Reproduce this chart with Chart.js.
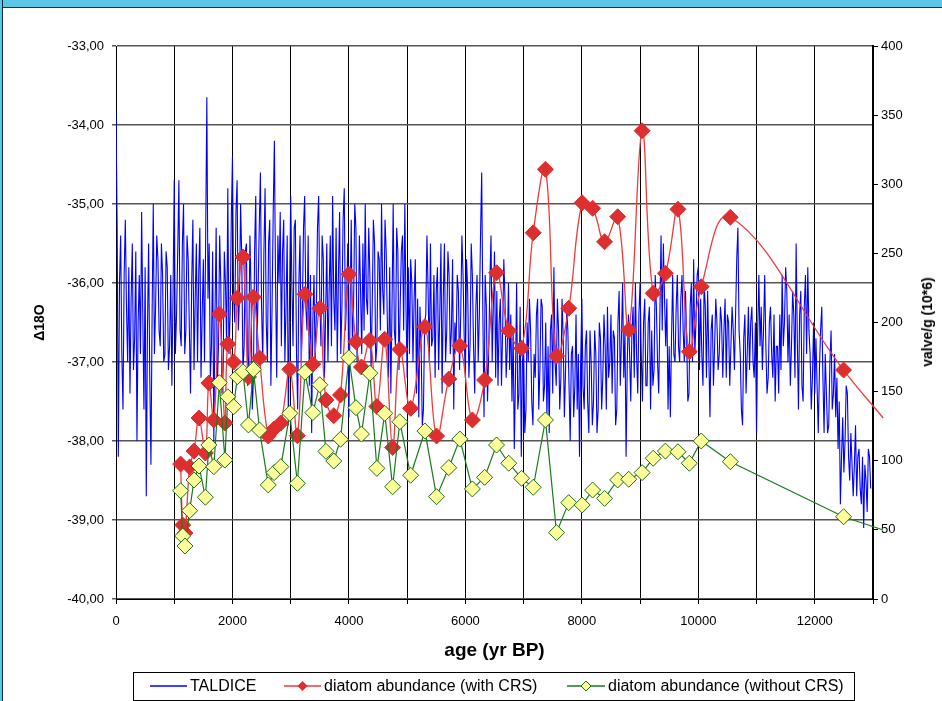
<!DOCTYPE html>
<html>
<head>
<meta charset="utf-8">
<script src="https://cdn.jsdelivr.net/npm/chart.js@4.4.1/dist/chart.umd.min.js"></script>
<style>
  html, body { margin: 0; padding: 0; background: #fff; }
  body { width: 942px; height: 701px; overflow: hidden; position: relative; font-family: "Liberation Sans", Arial, sans-serif; }
  #frame-top { position: absolute; left: 0; top: 0; width: 942px; height: 7px; background: #5cc6e6; border-bottom: 1px solid #1b2a3a; }
  #frame-left { position: absolute; left: 0; top: 0; width: 2px; height: 701px; background: #5cc6e6; border-right: 1px solid #1b2a3a; }
  #c { position: absolute; left: 0; top: 0; }
  #y2-title { position: absolute; left: 927px; top: 322px; transform: translate(-50%, -50%) rotate(-90deg); font-weight: bold; font-size: 14px; white-space: nowrap; color: #000; }
  #legend { position: absolute; left: 133px; top: 672px; width: 722px; height: 29px; border: 1px solid #000; box-sizing: border-box; font-size: 16px; color: #000; }
  #legend .item { position: absolute; top: 4px; height: 18px; display: flex; align-items: center; white-space: nowrap; }
  #legend svg { margin-right: 3px; }
</style>
</head>
<body>
<canvas id="c" width="942" height="701"></canvas>
<div id="frame-top"></div>
<div id="frame-left"></div>
<div id="y2-title">valve/g (10*6)</div>
<div id="legend">
  <div class="item" style="left:16px"><svg width="37" height="14"><line x1="0" y1="7" x2="37" y2="7" stroke="#0000ff" stroke-width="1.5"/></svg>TALDICE</div>
  <div class="item" style="left:150px"><svg width="37" height="14"><line x1="0" y1="7" x2="37" y2="7" stroke="#ee3b3b" stroke-width="1.5"/><polygon points="18.5,2 23.5,7 18.5,12 13.5,7" fill="#dd2f2f"/></svg>diatom abundance (with CRS)</div>
  <div class="item" style="left:433px"><svg width="38" height="14"><line x1="0" y1="7" x2="38" y2="7" stroke="#1a7a1a" stroke-width="1.5"/><polygon points="19,2 24,7 19,12 14,7" fill="#ffff99" stroke="#1e6b1e" stroke-width="1"/></svg>diatom abundance (without CRS)</div>
</div>
<script>
// TALDICE d18O record, one value every 20 yr starting at 0 yr BP
const TALDICE_STEP = 20;
const taldiceD18O = [
  -33.85, -35.3, -38.2, -36.0, -35.4, -36.9, -37.6, -35.9, -35.2, -36.3, -37.0, -35.8, -37.4, -36.2, -35.5, -37.1, -36.7, -35.6, -38.0, -36.5,
  -35.9, -36.9, -35.1, -36.4, -37.6, -35.8, -38.7, -36.6, -35.5, -37.2, -38.3, -36.4, -35.0, -36.9, -36.3, -35.4, -35.7, -36.6, -36.8, -35.5,
  -35.9, -37.0, -36.9, -35.6, -35.8, -37.1, -36.8, -35.9, -37.3, -36.1, -34.7, -36.9, -36.4, -35.6, -34.7, -36.6, -36.8, -35.5, -35.0, -36.9,
  -36.6, -35.4, -35.7, -36.6, -37.4, -36.0, -35.2, -37.1, -36.2, -35.5, -37.0, -35.9, -35.3, -37.2, -36.4, -35.7, -37.0, -35.4, -33.65, -36.2,
  -35.5, -37.2, -36.8, -35.6, -38.0, -36.4, -35.3, -37.3, -36.8, -35.4, -36.0, -37.4, -37.1, -35.6, -36.0, -36.8, -34.8, -36.9, -36.4, -35.2,
  -34.4, -36.2, -36.5, -35.1, -34.7, -36.6, -36.2, -35.0, -35.7, -37.1, -36.8, -35.6, -35.5, -37.3, -36.9, -35.4, -36.1, -37.6, -37.2, -35.6,
  -34.9, -36.9, -36.1, -35.3, -34.6, -36.3, -37.0, -35.6, -34.8, -36.5, -37.0, -35.5, -35.2, -37.3, -36.3, -35.1, -34.2, -36.0, -37.2, -35.4,
  -36.0, -35.1, -36.8, -35.6, -35.2, -37.0, -36.3, -35.4, -37.8, -36.2, -34.9, -36.0, -36.8, -35.3, -35.2, -36.9, -37.6, -36.0, -35.4, -37.0,
  -36.4, -35.3, -34.9, -36.3, -36.6, -35.4, -37.3, -35.9, -37.9, -36.5, -35.9, -37.0, -36.4, -35.3, -34.9, -36.2, -36.8, -35.4, -35.7, -37.2,
  -36.4, -35.5, -37.0, -36.1, -35.4, -36.8, -34.9, -36.2, -36.6, -35.3, -37.0, -35.9, -35.1, -36.9, -36.3, -35.2, -34.8, -36.6, -36.2, -35.5,
  -37.7, -36.3, -35.2, -36.8, -36.3, -35.0, -35.3, -37.0, -36.6, -35.4, -36.1, -36.9, -35.5, -36.6, -35.0, -36.2, -36.4, -35.3, -35.9, -37.1,
  -36.3, -35.2, -35.5, -37.0, -36.8, -35.6, -35.7, -36.6, -35.0, -36.1, -36.4, -35.2, -35.6, -36.5, -37.2, -35.8, -37.4, -36.3, -35.0, -36.6,
  -36.8, -35.3, -35.6, -37.1, -36.3, -35.6, -35.4, -36.6, -35.0, -36.3, -37.2, -35.8, -36.9, -35.7, -36.0, -37.0, -36.2, -35.7, -37.4, -36.2,
  -37.7, -36.3, -36.8, -37.8, -37.6, -36.5, -36.4, -35.4, -36.1, -37.0, -35.5, -36.8, -36.7, -35.9, -37.2, -36.1, -35.8, -37.1, -36.4, -35.5,
  -37.4, -36.2, -35.5, -37.0, -36.6, -35.6, -35.9, -36.9, -36.6, -35.7, -37.6, -36.5, -36.8, -35.9, -36.1, -37.1, -36.4, -35.4, -35.9, -36.7,
  -37.2, -35.7, -36.1, -37.2, -36.8, -35.5, -35.9, -36.8, -37.4, -36.3, -35.9, -37.0, -36.4, -35.4, -34.6, -36.4, -37.7, -35.9, -36.3, -37.5,
  -36.9, -36.0, -35.4, -37.0, -36.3, -35.6, -37.2, -36.1, -37.3, -36.5, -36.2, -37.3, -36.6, -35.7, -36.2, -37.2, -36.8, -36.0, -37.1, -36.4,
  -37.5, -36.6, -38.1, -37.2, -36.0, -37.6, -37.4, -36.3, -38.2, -37.0, -36.8, -37.9, -37.6, -36.5, -37.0, -36.2, -36.6, -37.5, -37.8, -36.9,
  -37.2, -36.4, -36.2, -37.6, -37.1, -36.2, -36.3, -37.5, -37.3, -36.5, -37.7, -36.8, -37.9, -36.6, -36.4, -37.4, -35.8, -37.0, -37.3, -36.2,
  -36.6, -37.6, -37.2, -36.2, -36.7, -37.7, -37.1, -36.3, -36.6, -37.3, -38.0, -36.9, -36.8, -37.7, -37.3, -36.4, -37.6, -36.9, -38.2, -37.0,
  -36.2, -37.3, -37.6, -36.8, -36.6, -37.5, -37.9, -36.6, -37.0, -37.8, -37.5, -36.6, -36.9, -37.9, -37.6, -36.5, -36.7, -37.6, -37.2, -36.4,
  -36.8, -37.6, -36.3, -37.2, -37.0, -36.4, -37.4, -36.6, -36.7, -37.8, -37.6, -36.5, -36.1, -37.3, -36.7, -36.0, -37.2, -36.6, -38.2, -37.0,
  -36.4, -36.9, -37.5, -36.6, -36.3, -37.2, -36.0, -36.9, -37.4, -36.4, -36.0, -36.9, -37.5, -36.5, -36.2, -37.3, -37.3, -36.5, -36.3, -37.6,
  -36.6, -37.3, -37.1, -35.9, -36.3, -37.0, -37.4, -36.4, -35.4, -36.6, -35.5, -36.2, -36.8, -36.2, -37.6, -36.8, -37.7, -36.7, -35.9, -36.9,
  -37.0, -36.3, -35.9, -36.8, -37.0, -36.2, -35.9, -36.6, -37.0, -36.1, -36.7, -37.5, -37.4, -36.3, -36.0, -37.0, -35.7, -36.9, -36.5, -35.9,
  -35.8, -37.1, -36.2, -36.9, -37.3, -36.0, -36.3, -37.2, -36.1, -36.9, -37.7, -36.6, -36.4, -37.3, -36.8, -36.2, -36.5, -37.1, -36.9, -36.3,
  -36.5, -37.2, -36.6, -36.2, -37.2, -36.4, -36.5, -37.3, -36.8, -36.3, -36.6, -37.1, -36.4, -35.7, -35.3, -36.6, -36.9, -37.6, -37.8, -36.7,
  -36.4, -37.4, -36.9, -36.3, -37.1, -36.5, -36.3, -37.0, -37.2, -36.5, -37.9, -36.6, -35.9, -36.8, -36.3, -37.1, -36.6, -35.9, -36.8, -37.4,
  -37.2, -36.5, -36.3, -36.9, -37.2, -36.4, -37.5, -36.8, -36.8, -37.4, -36.4, -37.1, -35.9, -36.8, -36.5, -35.8, -36.1, -37.0, -36.4, -37.3,
  -36.8, -36.1, -36.4, -37.2, -35.5, -36.7, -37.6, -36.4, -36.1, -37.3, -37.5, -36.3, -35.9, -36.9, -35.8, -36.6, -36.9, -37.6, -37.2, -36.5,
  -37.4, -36.7, -37.3, -37.9, -37.1, -36.6, -36.3, -37.2, -37.9, -36.9, -37.4, -37.9, -37.8, -37.0, -36.6, -37.6, -37.4, -36.9, -37.7, -37.2,
  -38.1, -37.5, -38.8, -38.2, -37.7, -38.4, -38.0, -37.3, -37.4, -38.2, -38.5, -37.9, -38.3, -38.7, -38.3, -37.8, -38.7, -38.2, -38.1, -38.6,
  -38.8, -38.2, -39.1, -38.3, -38.5, -38.9, -38.1, -38.2, -38.6
];

// diatom samples (age yr BP) and abundances, valve/g (10^6)
const diatomAge = [
  1110, 1145, 1185, 1265, 1340, 1425, 1535, 1595, 1680, 1775,
  1870, 1920, 2020, 2085, 2180, 2275, 2360, 2465, 2615, 2715,
  2830, 2985, 3115, 3245, 3380, 3500, 3605, 3740, 3855, 4000,
  4120, 4215, 4360, 4480, 4615, 4750, 4875, 5060, 5305, 5505,
  5715, 5905, 6120, 6330, 6535, 6745, 6965, 7165, 7375, 7565,
  7775, 8005, 8185, 8390, 8615, 8805, 9035, 9225, 9435, 9650,
  9845, 10050, 10550, 12495, 13175
];
const diatomWithCRS = [
  97.6, 53.5, 47.7, 95.5, 107.0, 130.9, 105.6, 156.2, 129.5, 206.1,
  127.3, 184.4, 171.4, 217.7, 247.4, 160.6, 218.4, 174.3, 117.9, 123.0,
  127.3, 166.1, 118.1, 220.4, 169.8, 210.3, 143.9, 132.6, 147.6, 234.9,
  186.1, 167.8, 187.0, 139.2, 187.8, 109.6, 180.5, 137.9, 197.0, 117.9,
  159.1, 183.2, 129.5, 158.4, 236.0, 194.1, 181.3, 264.9, 310.8, 175.8,
  210.3, 286.6, 282.6, 258.4, 276.5, 194.6, 338.7, 221.1, 235.6, 281.9,
  178.9, 225.9, 276.1, 165.6, 130.9
];
const diatomWithoutCRS = [
  78.3, 45.6, 38.3, 63.9, 86.1, 96.2, 73.6, 111.4, 95.7, 156.5,
  100.5, 146.3, 139.1, 160.8, 164.4, 125.9, 166.1, 122.2, 82.5, 91.4,
  95.7, 134.3, 83.7, 164.0, 134.8, 155.0, 106.8, 99.8, 115.5, 174.5,
  138.4, 119.3, 163.3, 94.5, 134.3, 81.2, 128.2, 89.5, 121.5, 74.0,
  95.0, 115.7, 79.6, 88.0, 111.4, 98.2, 87.3, 80.8, 129.5, 48.0,
  69.7, 68.0, 78.8, 72.8, 86.1, 86.6, 91.4, 101.8, 107.0, 106.5,
  98.2, 114.3, 99.3, 59.5, 49.9
];

const FONT = "'Liberation Sans', Arial, sans-serif";
const lastIdx = diatomAge.length - 1;  // last sample lies past the axis end: line only
const markerR = (ctx) => (ctx.dataIndex === lastIdx ? 0 : 8);

const taldice = taldiceD18O.map((v, i) => ({ x: i * TALDICE_STEP, y: v }));
const withCRS = diatomAge.map((a, i) => ({ x: a, y: diatomWithCRS[i] }));
const withoutCRS = diatomAge.map((a, i) => ({ x: a, y: diatomWithoutCRS[i] }));

new Chart(document.getElementById("c"), {
  type: "line",
  data: {
    datasets: [
      { label: "diatom abundance (without CRS)", data: withoutCRS, yAxisID: "y2", order: 1,
        borderColor: "#1a7a1a", borderWidth: 1.2, tension: 0, clip: false,
        pointStyle: "rectRot", pointRadius: markerR, pointBackgroundColor: "#ffff99",
        pointBorderColor: "#1e6b1e", pointBorderWidth: 1 },
      { label: "diatom abundance (with CRS)", data: withCRS, yAxisID: "y2", order: 2,
        borderColor: "#ee3b3b", borderWidth: 1.3, tension: 0.4, clip: false,
        pointStyle: "rectRot", pointRadius: markerR, pointBackgroundColor: "#dd2f2f",
        pointBorderColor: "#dd2f2f", pointBorderWidth: 1 },
      { label: "TALDICE", data: taldice, yAxisID: "y", order: 3,
        borderColor: "#0000ff", borderWidth: 1.1, tension: 0, pointRadius: 0 }
    ]
  },
  options: {
    responsive: false, animation: false, events: [],
    layout: { padding: { top: 46, left: 0, right: 0, bottom: 0 } },
    plugins: { legend: { display: false }, tooltip: { enabled: false } },
    scales: {
      x: {
        type: "linear", min: 0, max: 13000,
        afterFit: (s) => { s.height = 102; },
        ticks: { stepSize: 1000, autoSkip: false, maxRotation: 0, padding: 10, color: "#000",
          font: { family: FONT, size: 13 },
          callback: (v) => (v % 2000 === 0 ? String(v) : "") },
        grid: { color: "#000", lineWidth: 1, tickLength: 5 },
        border: { color: "#000", width: 1 },
        title: { display: true, text: "age (yr BP)", color: "#000",
          font: { family: FONT, size: 19, weight: "bold" }, padding: { top: 0, bottom: 39 } }
      },
      y: {
        position: "left", min: -40, max: -33,
        afterFit: (s) => { s.width = 116; },
        ticks: { stepSize: 1, padding: 8, color: "#000", font: { family: FONT, size: 13 },
          callback: (v) => v.toFixed(2).replace(".", ",") },
        grid: { color: "#555", lineWidth: 1.5, tickLength: 4 },
        border: { color: "#000", width: 1 },
        title: { display: true, text: "\u039418O", color: "#000",
          font: { family: FONT, size: 14, weight: "bold" }, padding: { top: 32, bottom: 0 } }
      },
      y2: {
        position: "right", min: 0, max: 400,
        afterFit: (s) => { s.width = 69; },
        ticks: { stepSize: 50, padding: 3, color: "#000", font: { family: FONT, size: 13 } },
        grid: { drawOnChartArea: false, color: "#000", tickLength: 5 },
        border: { color: "#000", width: 2 }
      }
    }
  }
});
</script>
</body>
</html>
